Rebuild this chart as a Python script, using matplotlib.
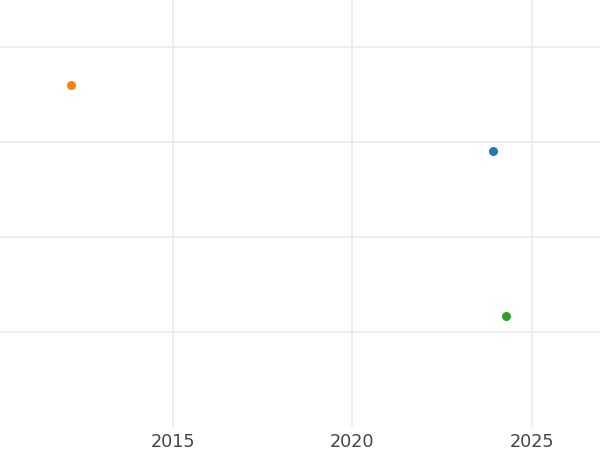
import matplotlib
matplotlib.use('Agg')
import matplotlib.pyplot as plt

# one point per series, tab10 colours
series_names = ['A', 'B', 'C']
years = [2023.92, 2012.17, 2024.29]
values = [2.91, 3.60, 1.165]
colors = ['#1f77b4', '#ff7f0e', '#2ca02c']

x_ticks = [2015, 2020, 2025]
y_ticks = [1, 2, 3, 4]

fig = plt.figure(figsize=(6, 4.5), dpi=100)
ax = fig.add_axes([0, 0.0511, 1, 0.9489])

for name, x, y, c in zip(series_names, years, values, colors):
    ax.scatter([x], [y], s=42, color=c, zorder=3, linewidths=0, label=name)

ax.set_xlim(2010.176, 2026.91)
ax.set_ylim(0, 4.5)
ax.set_xticks(x_ticks)
ax.set_xticklabels([str(t) for t in x_ticks])
ax.set_yticks(y_ticks)
ax.set_yticklabels([])

ax.grid(True, color='#ebebeb', linewidth=1.2)
ax.set_axisbelow(True)
for s in ax.spines.values():
    s.set_visible(False)
ax.tick_params(axis='both', length=0, labelsize=12.7, labelcolor='#444444', pad=4)

fig.savefig('out.png', dpi=100, facecolor='white')
